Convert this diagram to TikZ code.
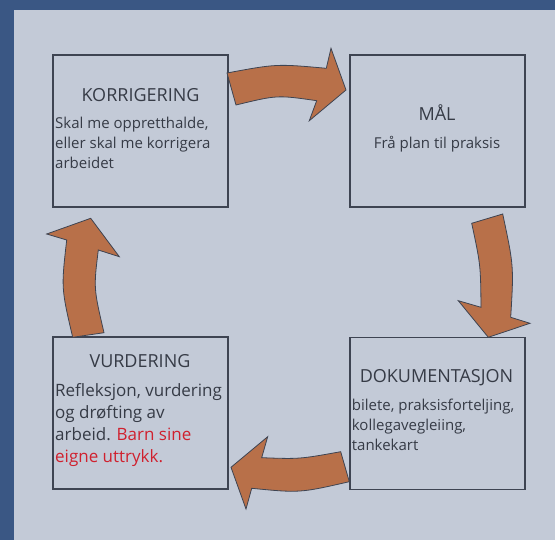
\documentclass[tikz,border=0pt]{standalone}
\usepackage{fontspec}
\setmainfont{Open Sans}
\definecolor{frame}{HTML}{3A5784}
\definecolor{bg}{HTML}{C3CAD7}
\definecolor{boxline}{HTML}{3E4452}
\definecolor{arrowfill}{HTML}{B87049}
\definecolor{txt}{HTML}{363B46}
\definecolor{redtxt}{HTML}{D0202E}
\begin{document}
\begin{tikzpicture}[x=1pt,y=-1pt,
  box/.style={draw=boxline,line width=1.1pt,inner sep=0pt,minimum width=175pt,minimum height=152pt},
  blockarrow/.style={fill=arrowfill,draw=boxline,line width=0.8pt,line join=miter},
  title/.style={text=txt,font=\fontsize{18}{22}\selectfont,inner sep=0pt,anchor=base},
  bodytext/.style={text=txt,font=\fontsize{15}{19}\selectfont,inner sep=0pt,anchor=base west},
  bigbody/.style={text=txt,font=\fontsize{17}{22}\selectfont,inner sep=0pt,anchor=base west}]
\useasboundingbox (0,0) rectangle (555,540);
\fill[frame] (0,0) rectangle (555,540);
\fill[bg] (14,9.6) rectangle (555,540);
% boxes
\node[box] (korr) at (140.5,131) {};
\node[box] (mal) at (437.5,131) {};
\node[box] (vurd) at (140.5,413) {};
\node[box] (dok) at (437.5,413.5) {};
% arrows
\draw[blockarrow] (227,73) .. controls (276.5,63.8) .. (326.3,68.3) -- (331,48.3) -- (346,90) -- (309.3,120.7) -- (316.7,100.7) .. controls (277.2,95) .. (236,105) -- cycle;
\draw[blockarrow] (502.7,214) .. controls (513.8,266.1) .. (510.7,317.3) -- (530,323.3) -- (488.3,337.3) -- (458.3,300.7) -- (481,307.3) .. controls (480.6,264.9) .. (471.7,223.3) -- cycle;
\draw[blockarrow] (349.3,481.7) .. controls (299.8,493) .. (251.7,488.3) -- (246,509) -- (231,467.3) -- (267.7,436.7) -- (261.7,457.7) .. controls (299.6,459.1) .. (340.7,451.7) -- cycle;
\draw[blockarrow] (72.7,337.3) .. controls (61.2,288.2) .. (66.7,240) -- (46.7,234) -- (90.7,218.3) -- (119.3,256.7) -- (98.3,250) .. controls (93.6,288.2) .. (104,332.7) -- cycle;
% texts
\node[title] (korrT) at (140.5,101.7) {KORRIGERING};
\node[bodytext] (korr1) at (55,128.3) {Skal me oppretthalde,};
\node[bodytext] (korr2) at (55,148.6) {eller skal me korrigera};
\node[bodytext] (korr3) at (55,168.5) {arbeidet};
\node[title] (malT) at (437,121) {MÅL};
\node[bodytext,anchor=base] (mal1) at (437,148.3) {Frå plan til praksis};
\node[title] (vurdT) at (140,367.7) {VURDERING};
\node[bigbody] (vurd1) at (55,397) {Refleksjon, vurdering};
\node[bigbody] (vurd2) at (55,419) {og drøfting av};
\node[bigbody] (vurd3) at (55,441) {arbeid. \textcolor{redtxt}{Barn sine}};
\node[bigbody] (vurd4) at (55,463) {\textcolor{redtxt}{eigne uttrykk.}};
\node[title] (dokT) at (436.5,382.3) {DOKUMENTASJON};
\node[bodytext] (dok1) at (351.7,410.7) {bilete, praksisforteljing,};
\node[bodytext] (dok2) at (351.7,431) {kollegavegleiing,};
\node[bodytext] (dok3) at (351.7,450.5) {tankekart};
\end{tikzpicture}
\end{document}
